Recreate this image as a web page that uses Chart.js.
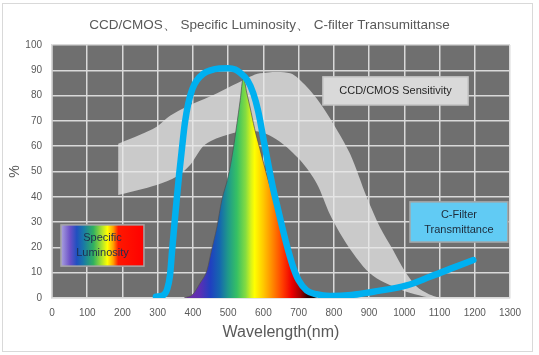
<!DOCTYPE html>
<html><head><meta charset="utf-8">
<script src="https://cdn.jsdelivr.net/npm/chart.js@4.4.1/dist/chart.umd.min.js"></script>
<style>html,body{margin:0;padding:0;background:#fff;}#wrap{position:relative;width:539px;height:355px;}</style>
</head><body><div id="wrap"><canvas id="c" width="539" height="355"></canvas></div>
<script>
const chartTitle = 'CCD/CMOS\u3001 Specific Luminosity\u3001 C-filter Transumittanse';
const xAxisTitle = 'Wavelength(nm)';
const yAxisTitle = '%';
const xTickValues = [0,100,200,300,400,500,600,700,800,900,1000,1100,1200,1300];
const yTickValues = [0,10,20,30,40,50,60,70,80,90,100];

// CCD/CMOS sensitivity band: upper and lower boundaries [nm, %]
const bandUpper = [[188,61],[250,64.5],[297,67.7],[335,72],[382,75.6],[448,79.6],[534,85.5],[590,88.8],[676,88.8],[723,83.5],[761,77],[798,69],[846,57],[893,40],[931,28],[968,19],[1000,11],[1035,4.5],[1070,1.5],[1100,0]];
const bandLower = [[188,40.7],[297,44.7],[354,48],[392,52.6],[429,60],[457,62.5],[496,64.4],[534,65.7],[590,65.7],[647,61.8],[704,54.5],[751,45.4],[789,33],[817,25.7],[855,17.6],[893,11],[931,7],[978,4],[1030,1.5],[1080,0]];

// Specific luminosity [nm, %]
const luminosity = [[375,0],[400,1.5],[420,5.8],[440,11],[453,19],[468,28],[482,38.7],[500,48],[514,58.5],[525,69],[534,78],[543,87],[553,81],[562,75.5],[575,67],[590,59],[605,51],[619,44],[633,38],[647,31],[660,25],[676,19],[690,12],[709,6],[720,3.5],[732,2],[745,0.5],[752,0]];

// C-filter transmittance [nm, %]
const cFilter = [[295,0.5],[315,1],[327,3.5],[335,9],[341,19],[348,30],[354,39],[361,49],[368,58],[377,69],[387,77],[398,82.5],[411,86],[430,88.7],[450,90],[475,90.7],[500,90.8],[520,90.3],[534,89],[555,86],[571,81],[585,74],[600,63],[615,52],[628,43],[640,36],[657,26],[670,19],[685,12],[700,7],[723,3],[750,1.5],[790,0.8],[850,1.2],[912,2.5],[1007,5],[1073,8.4],[1130,11.5],[1196,15]];

// spectrum colours by wavelength
const spectrumStops = [[380,'#7030a0'],[420,'#5b2fb5'],[450,'#2040c0'],[475,'#1565b0'],[500,'#1f9a8a'],[525,'#36c064'],[550,'#86dc40'],[565,'#d8f21a'],[575,'#ffff00'],[600,'#ffc800'],[625,'#ff8a00'],[655,'#ff3c00'],[680,'#ee0000'],[705,'#a00000'],[725,'#300000'],[745,'#100000']];

const toPts = a => a.map(p => ({x:p[0], y:p[1]}));
const bandLoop = toPts(bandUpper.concat(bandLower.slice().reverse()));

function spectrumGradient(ctx) {
  const chart = ctx.chart;
  const area = chart.chartArea;
  if (!area) return '#80c040';
  const xs = chart.scales.x;
  const x0 = xs.getPixelForValue(spectrumStops[0][0]);
  const x1 = xs.getPixelForValue(spectrumStops[spectrumStops.length-1][0]);
  const g = chart.ctx.createLinearGradient(x0, 0, x1, 0);
  spectrumStops.forEach(s => {
    const px = xs.getPixelForValue(s[0]);
    g.addColorStop(Math.min(1, Math.max(0, (px - x0) / (x1 - x0))), s[1]);
  });
  return g;
}

const labelBoxes = [
  {lines:['CCD/CMOS Sensitivity'], x0:769, x1:1181, y0:76.3, y1:87.4, fill:'#d9d9d9', stroke:'#c4c4c4', color:'#262626'},
  {lines:['C-Filter','Transmittance'], x0:1016, x1:1294, y0:22.1, y1:38, fill:'#61cbf4', stroke:'#a6a6a6', color:'#1d2b3a'},
  {lines:['Specific','Luminosity'], x0:25.5, x1:261, y0:12.6, y1:28.9, gradient:true, stroke:'#a6a6a6', color:'#1f2d50'}
];
const legendStops = [[0,'#aaa2de'],[0.11,'#6a50c8'],[0.19,'#2050c0'],[0.27,'#1878a8'],[0.39,'#30b060'],[0.49,'#a8e030'],[0.56,'#ffff00'],[0.63,'#ffa000'],[0.69,'#ff1800'],[1,'#ff0000']];

const FONT = '"Liberation Sans", Arial, sans-serif';

const bgPlugin = {
  id:'bg',
  beforeDraw(chart) {
    const c = chart.ctx, a = chart.chartArea;
    c.save();
    c.fillStyle = '#fff';
    c.fillRect(0,0,chart.width,chart.height);
    c.strokeStyle = '#d9d9d9'; c.lineWidth = 1;
    c.strokeRect(2.5, 3.5, 530, 348);
    c.fillStyle = '#6f6f6f';
    c.fillRect(a.left, a.top, a.right - a.left, a.bottom - a.top);
    c.fillStyle = '#595959';
    c.font = '13.5px ' + FONT;
    c.textAlign = 'center'; c.textBaseline = 'middle';
    c.fillText(chartTitle, 269.5, 25);
    c.restore();
  }
};
const labelPlugin = {
  id:'labels',
  afterDatasetsDraw(chart) {
    const c = chart.ctx, xs = chart.scales.x, ys = chart.scales.y;
    labelBoxes.forEach(b => {
      const l = xs.getPixelForValue(b.x0), r = xs.getPixelForValue(b.x1);
      const t = ys.getPixelForValue(b.y1), btm = ys.getPixelForValue(b.y0);
      c.save();
      if (b.gradient) {
        const g = c.createLinearGradient(l,0,r,0);
        legendStops.forEach(s => g.addColorStop(s[0], s[1]));
        c.fillStyle = g;
      } else c.fillStyle = b.fill;
      c.fillRect(l, t, r-l, btm-t);
      c.strokeStyle = b.stroke; c.lineWidth = 1.5;
      c.strokeRect(l, t, r-l, btm-t);
      c.fillStyle = b.color;
      c.font = '11px ' + FONT;
      c.textAlign = 'center'; c.textBaseline = 'middle';
      const cy = (t+btm)/2, cx = (l+r)/2, lh = 15;
      b.lines.forEach((ln,i) => c.fillText(ln, cx, cy + (i - (b.lines.length-1)/2) * lh));
      c.restore();
    });
  }
};

new Chart(document.getElementById('c'), {
  type:'line',
  data:{ datasets:[
    {label:'C-Filter Transmittance', data:toPts(cFilter), borderColor:'#00b0f0', borderWidth:6.5, pointRadius:0, fill:false, cubicInterpolationMode:'monotone', borderCapStyle:'round', borderJoinStyle:'round'},
    {label:'Specific Luminosity', data:toPts(luminosity), borderColor:'rgba(80,80,80,0.7)', borderWidth:1, pointRadius:0, fill:'origin', backgroundColor:spectrumGradient, cubicInterpolationMode:'monotone'},
    {label:'CCD/CMOS Sensitivity', data:bandLoop, borderWidth:0, borderColor:'rgba(0,0,0,0)', pointRadius:0, fill:'shape', backgroundColor:'rgba(232,232,232,0.75)', tension:0.3}
  ]},
  options:{
    responsive:false, devicePixelRatio:1, animation:false,
    layout:{padding:{left:0,right:29,top:45,bottom:0}},
    plugins:{ legend:{display:false}, tooltip:{enabled:false}, title:{display:false} },
    scales:{
      x:{type:'linear', min:0, max:1300,
        afterBuildTicks(s){ s.ticks = xTickValues.map(v=>({value:v})); },
        afterFit(s){ s.height = 57; },
        grid:{color:'#d9d9d9', lineWidth:1.5, drawTicks:false},
        border:{display:true, color:'#d9d9d9', width:1.5},
        ticks:{color:'#595959', font:{family:FONT, size:10}, padding:9, maxRotation:0, autoSkip:false, callback:v => String(v)},
        title:{display:true, text:xAxisTitle, color:'#595959', font:{family:FONT, size:16}, padding:{top:0, bottom:12.4}}
      },
      y:{min:0, max:100,
        afterBuildTicks(s){ s.ticks = yTickValues.map(v=>({value:v})); },
        afterFit(s){ s.width = 52; },
        grid:{color:'#d9d9d9', lineWidth:1.5, drawTicks:false},
        border:{display:true, color:'#d9d9d9', width:1.5},
        ticks:{color:'#595959', font:{family:FONT, size:10}, padding:10, callback:v => String(v)},
        title:{display:true, text:yAxisTitle, color:'#595959', font:{family:FONT, size:14}, padding:{top:6.6, bottom:0}}
      }
    }
  },
  plugins:[bgPlugin, labelPlugin]
});
</script></body></html>
